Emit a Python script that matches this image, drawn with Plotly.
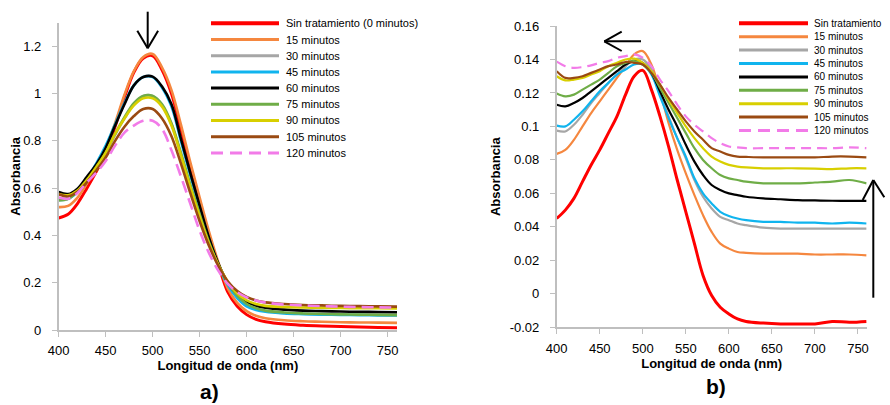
import plotly.graph_objects as go

# ---------------- data ----------------
wavelength = [400, 410, 420, 430, 440, 450, 460, 470, 480, 490, 500, 510, 520, 530, 540,
              550, 560, 570, 580, 590, 600, 610, 620, 640, 660, 680, 700, 720, 740, 760]

names_a = ["Sin tratamiento (0 minutos)", "15 minutos", "30 minutos", "45 minutos", "60 minutos",
           "75 minutos", "90 minutos", "105 minutos", "120 minutos"]
names_b = ["Sin tratamiento", "15 minutos", "30 minutos", "45 minutos", "60 minutos",
           "75 minutos", "90 minutos", "105 minutos", "120 minutos"]

# panel a) absorbance
a_0 = [.474, .49, .535, .60, .67, .75, .86, .985, 1.09, 1.15, 1.16, 1.10, 1.00, .85, .69,
       .545, .40, .275, .16, .10, .065, .045, .035, .025, .02, .017, .015, .013, .011, .01]
a_15 = [.52, .525, .56, .62, .69, .77, .875, .995, 1.095, 1.155, 1.168, 1.11, 1.015, .87, .71,
        .56, .415, .285, .175, .115, .08, .06, .05, .041, .037, .035, .033, .032, .031, .03]
a_30 = [.555, .56, .585, .63, .685, .75, .825, .895, .955, .99, .99, .95, .87, .745, .61,
        .485, .37, .275, .195, .14, .105, .088, .08, .072, .069, .067, .066, .065, .065, .064]
a_45 = [.55, .555, .585, .64, .705, .78, .87, .96, 1.035, 1.07, 1.07, 1.025, .945, .80, .655,
        .515, .385, .275, .19, .135, .10, .085, .077, .07, .067, .065, .064, .063, .062, .062]
a_60 = [.584, .575, .598, .648, .70, .77, .865, .955, 1.035, 1.07, 1.072, 1.03, .955, .81, .665,
        .525, .39, .28, .20, .15, .12, .103, .094, .086, .082, .08, .078, .077, .076, .075]
a_75 = [.548, .555, .585, .63, .685, .75, .83, .90, .96, .99, .99, .955, .875, .75, .615,
        .49, .37, .275, .20, .145, .11, .092, .082, .074, .07, .068, .066, .065, .064, .063]
a_90 = [.575, .57, .59, .635, .69, .75, .83, .895, .95, .98, .98, .945, .865, .74, .605,
        .48, .365, .275, .205, .155, .125, .11, .102, .097, .095, .094, .093, .092, .092, .091]
a_105 = [.574, .565, .585, .625, .675, .73, .80, .86, .905, .935, .935, .895, .82, .705, .58,
         .46, .355, .27, .205, .165, .14, .125, .117, .11, .106, .104, .102, .101, .10, .099]
a_120 = [.56, .555, .58, .625, .665, .715, .78, .835, .865, .885, .885, .85, .76, .65, .535,
         .42, .325, .25, .195, .16, .138, .125, .116, .108, .104, .101, .099, .097, .096, .095]

# panel b) absorbance
b_0 = [.045, .050, .057, .067, .077, .086, .096, .106, .119, .130, .1335, .122, .106, .088, .068,
       .049, .030, .011, -.001, -.008, -.012, -.015, -.0165, -.0175, -.018, -.018, -.018, -.0165, -.017, -.0165]
b_15 = [.0836, .086, .092, .100, .108, .115, .122, .129, .136, .143, .145, .137, .121, .102, .086,
        .072, .059, .047, .037, .030, .027, .025, .0245, .024, .024, .024, .0235, .0235, .0235, .023]
b_30 = [.0975, .097, .101, .107, .114, .120, .126, .131, .136, .140, .140, .134, .120, .106, .093,
        .081, .068, .058, .051, .046, .044, .042, .041, .0395, .039, .039, .039, .039, .039, .039]
b_45 = [.1005, .100, .104, .109, .115, .121, .126, .131, .134, .137, .137, .131, .118, .105, .093,
        .082, .069, .060, .054, .049, .0465, .045, .044, .043, .043, .0425, .0425, .042, .0425, .042]
b_60 = [.113, .112, .114, .117, .121, .125, .129, .133, .137, .139, .138, .132, .121, .110, .100,
        .089, .079, .071, .065, .062, .060, .059, .058, .057, .0565, .056, .0558, .0556, .0555, .0555]
b_75 = [.1197, .118, .119, .122, .125, .128, .132, .136, .138, .139, .137, .132, .123, .114, .105,
        .096, .087, .080, .075, .071, .069, .068, .067, .066, .066, .066, .0665, .067, .068, .066]
b_90 = [.130, .1275, .128, .129, .131, .133, .136, .138, .140, .1405, .138, .133, .125, .116, .108,
        .100, .093, .087, .082, .079, .077, .076, .0755, .075, .075, .075, .0748, .0745, .075, .075]
b_105 = [.133, .129, .129, .130, .132, .134, .136, .137, .1385, .138, .137, .132, .125, .117, .110,
         .103, .097, .092, .087, .085, .083, .082, .0818, .0815, .0815, .0815, .0815, .082, .082, .0815]
b_120 = [.1387, .136, .135, .1355, .1365, .138, .139, .141, .142, .143, .141, .136, .128, .121, .113,
         .106, .101, .097, .093, .090, .088, .0875, .087, .087, .087, .087, .087, .087, .0875, .087]

series_a = [a_0, a_15, a_30, a_45, a_60, a_75, a_90, a_105, a_120]
series_b = [b_0, b_15, b_30, b_45, b_60, b_75, b_90, b_105, b_120]

x_ticks = [400, 450, 500, 550, 600, 650, 700, 750]
ya_ticks = [0, 0.2, 0.4, 0.6, 0.8, 1, 1.2]
ya_labels = ["0", "0.2", "0.4", "0.6", "0.8", "1", "1.2"]
yb_ticks = [-0.02, 0, 0.02, 0.04, 0.06, 0.08, 0.1, 0.12, 0.14, 0.16]
yb_labels = ["-0.02", "0", "0.02", "0.04", "0.06", "0.08", "0.1", "0.12", "0.14", "0.16"]

# ---------------- style ----------------
colors = ["#FF0000", "#F5873F", "#A6A6A6", "#10B4EE", "#000000",
          "#6FAD47", "#D8CF00", "#9A4A12", "#F27BE8"]
W, H = 890, 405
FONT = "Liberation Sans, Arial, sans-serif"
AXC = "#BFBFBF"

def px(x):
    return x / W

def py(y):
    return 1 - y / H

fig = go.Figure()

for i, (name, vals) in enumerate(zip(names_a, series_a)):
    fig.add_trace(go.Scatter(
        x=wavelength, y=vals, name=name, mode="lines", xaxis="x", yaxis="y",
        line=dict(color=colors[i], width=3 if i == 0 else 2.6, shape="spline",
                  dash="12px,6px" if i == 8 else "solid"),
        showlegend=False))

for i, (name, vals) in enumerate(zip(names_b, series_b)):
    fig.add_trace(go.Scatter(
        x=wavelength, y=vals, name=name, mode="lines", xaxis="x2", yaxis="y2",
        line=dict(color=colors[i], width=3 if i == 0 else 2.2, shape="spline",
                  dash="10px,6px" if i == 8 else "solid"),
        showlegend=False))

axis_common = dict(showline=True, linecolor=AXC, linewidth=1.6, ticks="outside",
                   tickcolor=AXC, ticklen=5, tickwidth=1.3, showgrid=False, zeroline=False,
                   automargin=False,
                   tickfont=dict(family=FONT, size=13, color="#000"))

title_font = dict(family=FONT, size=13, color="#000")

fig.update_layout(
    template="none",
    width=W, height=H, margin=dict(l=0, r=0, t=0, b=0),
    paper_bgcolor="white", plot_bgcolor="white",
    font=dict(family=FONT, color="#000"),
    xaxis=dict(domain=[px(58.7), px(397)], range=[400, 760], tickvals=x_ticks,
               anchor="y", ticklabelstandoff=3,
               title=dict(text="<b>Longitud de onda (nm)</b>", font=title_font, standoff=2),
               **axis_common),
    yaxis=dict(domain=[py(330), py(22.7)], range=[0, 1.3], tickvals=ya_ticks, ticktext=ya_labels,
               anchor="x", ticklabelstandoff=8,
               title=dict(text="<b>Absorbancia</b>", font=title_font, standoff=0),
               **axis_common),
    xaxis2=dict(domain=[px(556.7), px(866.6)], range=[400, 760], tickvals=x_ticks,
                anchor="y2", ticklabelstandoff=3,
                title=dict(text="<b>Longitud de onda (nm)</b>", font=title_font, standoff=0),
                **axis_common),
    yaxis2=dict(domain=[py(327.3), py(26)], range=[-0.02, 0.16], tickvals=yb_ticks, ticktext=yb_labels,
                anchor="x2", ticklabelstandoff=8,
                title=dict(text="<b>Absorbancia</b>", font=title_font, standoff=6),
                **axis_common),
)

shapes = []
annotations = []

# manual legends (compact Excel-style rows)
def add_legend(names, x0, x1, xt, y0, dy, fsize, wmain, wother, dash):
    for i, name in enumerate(names):
        yy = y0 + i * dy
        shapes.append(dict(type="line", xref="paper", yref="paper",
                           x0=px(x0), x1=px(x1), y0=py(yy), y1=py(yy),
                           line=dict(color=colors[i], width=wmain if i == 0 else wother,
                                     dash=dash if i == 8 else "solid")))
        annotations.append(dict(text=name, xref="paper", yref="paper", x=px(xt), y=py(yy),
                                xanchor="left", yanchor="middle", showarrow=False,
                                borderpad=0,
                                font=dict(family=FONT, size=fsize, color="#000")))

add_legend(names_a, 211, 279, 285, 23.3, 16.2, 11, 4, 3, "12px,7px")
add_legend(names_b, 739, 808, 813, 23.3, 13.4, 10, 4, 3, "12px,7px")

# arrows (open heads, drawn as line strokes)
def seg(xa, ya, xb, yb):
    shapes.append(dict(type="line", xref="paper", yref="paper",
                       x0=px(xa), y0=py(ya), x1=px(xb), y1=py(yb),
                       line=dict(color="#000", width=2)))

# a) down arrow
seg(147.7, 11.7, 147.7, 48.3)
seg(137.3, 30.7, 147.7, 48.3)
seg(158.1, 30.7, 147.7, 48.3)
# b) left arrow
seg(641, 41.3, 604.3, 41.3)
seg(621.7, 31.7, 604.3, 41.3)
seg(621.7, 51, 604.3, 41.3)
# b) up arrow
seg(873.3, 297.7, 873.3, 180)
seg(862.7, 200, 873.3, 180)
seg(884.3, 197.3, 873.3, 180)

# panel labels
annotations.append(dict(text="<b>a)</b>", xref="paper", yref="paper", x=px(209), y=py(391.5),
                        xanchor="center", yanchor="middle", showarrow=False, borderpad=0,
                        font=dict(family=FONT, size=21, color="#000")))
annotations.append(dict(text="<b>b)</b>", xref="paper", yref="paper", x=px(716), y=py(386),
                        xanchor="center", yanchor="middle", showarrow=False, borderpad=0,
                        font=dict(family=FONT, size=21, color="#000")))

fig.update_layout(shapes=shapes, annotations=annotations)

fig.write_html("out.html", config={"displayModeBar": False},
               post_script="document.body.style.margin='0';document.body.style.overflow='hidden';")
